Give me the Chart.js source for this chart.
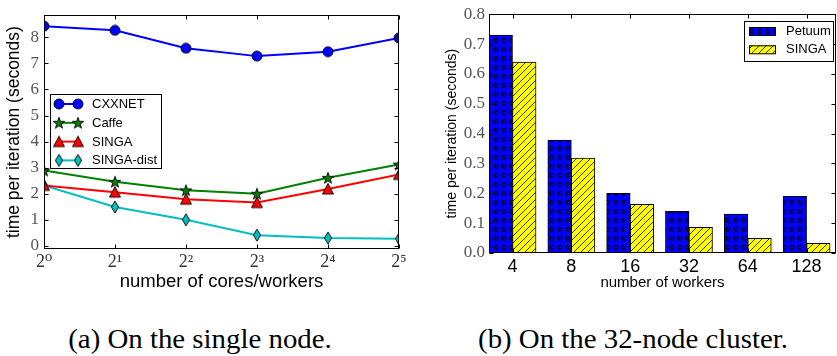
<!DOCTYPE html>
<html><head><meta charset="utf-8">
<script src="https://cdn.jsdelivr.net/npm/chart.js@4/dist/chart.umd.min.js"></script>
<style>
html,body{margin:0;padding:0;background:#fff;}
#wrap{position:relative;width:837px;height:356px;overflow:hidden;background:#fff;}
#c1{position:absolute;left:0;top:0;}
#c2{position:absolute;left:420px;top:0;}
.cap{position:absolute;top:325px;font-family:'Liberation Serif',serif;font-size:28px;line-height:28px;color:#000;white-space:nowrap;transform:translateX(-50%) scaleX(1.03);transform-origin:50% 50%;}
</style></head>
<body>
<div id="wrap">
<canvas id="c1" width="420" height="300"></canvas>
<canvas id="c2" width="417" height="300"></canvas>
<div class="cap" style="left:200px">(a) On the single node.</div>
<div class="cap" style="left:633px">(b) On the 32-node cluster.</div>
</div>
<script>
// ---------- data ----------
const coreExponents = [0, 1, 2, 3, 4, 5];
const coreTickLabels = ['2\u2070', '2\u00B9', '2\u00B2', '2\u00B3', '2\u2074', '2\u2075'];
const cxxnet    = [8.43, 8.27, 7.58, 7.28, 7.45, 7.98];
const caffe     = [2.89, 2.46, 2.13, 2.00, 2.61, 3.12];
const singa     = [2.32, 2.06, 1.79, 1.66, 2.18, 2.74];
const singaDist = [2.32, 1.49, 1.00, 0.41, 0.30, 0.27];

const workers      = ['4', '8', '16', '32', '64', '128'];
const petuum       = [0.73, 0.378, 0.200, 0.140, 0.130, 0.190];
const singaCluster = [0.64, 0.318, 0.163, 0.086, 0.049, 0.032];

// ---------- marker images ----------
function mk(w, h, draw) { const c = document.createElement('canvas'); c.width = w; c.height = h; draw(c.getContext('2d')); return c; }
const circleImg = mk(12, 12, g => { g.beginPath(); g.arc(6, 6, 5, 0, Math.PI * 2); g.fillStyle = '#0000ff'; g.fill(); g.lineWidth = 0.9; g.strokeStyle = '#000'; g.stroke(); });
const starImg = mk(14, 14, g => {
  g.beginPath();
  for (let i = 0; i < 10; i++) { const r = i % 2 ? 2.4 : 6; const a = -Math.PI / 2 + i * Math.PI / 5; const px = 7 + r * Math.cos(a), py = 7.5 + r * Math.sin(a); i ? g.lineTo(px, py) : g.moveTo(px, py); }
  g.closePath(); g.fillStyle = '#008000'; g.fill(); g.lineWidth = 0.9; g.strokeStyle = '#000'; g.stroke();
});
const triImg = mk(14, 14, g => { g.beginPath(); g.moveTo(7, 1.5); g.lineTo(12.5, 12); g.lineTo(1.5, 12); g.closePath(); g.fillStyle = '#ff0000'; g.fill(); g.lineWidth = 0.9; g.strokeStyle = '#000'; g.stroke(); });
const diaImg = mk(10, 14, g => { g.beginPath(); g.moveTo(5, 1); g.lineTo(8.6, 7); g.lineTo(5, 13); g.lineTo(1.4, 7); g.closePath(); g.fillStyle = '#00bfbf'; g.fill(); g.lineWidth = 0.9; g.strokeStyle = '#000'; g.stroke(); });

// ---------- shared plugins ----------
const frameTicks = {
  id: 'frameTicks',
  afterDatasetsDraw(chart, args, opts) {
    const { ctx, chartArea: a, scales: { x, y } } = chart;
    const len = opts.len || 4;
    const L = Math.round(a.left) + 0.5, R = Math.round(a.right) - 0.5, T = Math.round(a.top) + 0.5, B = Math.round(a.bottom) - 0.5;
    ctx.save();
    ctx.strokeStyle = '#000'; ctx.lineWidth = 1;
    ctx.beginPath();
    x.ticks.forEach(t => { const p = Math.round(x.getPixelForValue(t.value)) + 0.5; ctx.moveTo(p, T); ctx.lineTo(p, T + len); ctx.moveTo(p, B); ctx.lineTo(p, B - len); });
    y.ticks.forEach(t => { const p = Math.round(y.getPixelForValue(t.value)) + 0.5; ctx.moveTo(L, p); ctx.lineTo(L + len, p); ctx.moveTo(R, p); ctx.lineTo(R - len, p); });
    ctx.stroke();
    ctx.strokeRect(L, T, R - L, B - T);
    ctx.restore();
  }
};

const lineLegend = {
  id: 'lineLegend',
  afterDraw(chart) {
    const { ctx, chartArea: a } = chart;
    const bx = Math.round(a.left) + 6, by = Math.round(a.top) + 79, bw = 111, bh = 74;
    ctx.save();
    ctx.fillStyle = '#fff'; ctx.fillRect(bx, by, bw, bh);
    ctx.strokeStyle = '#000'; ctx.lineWidth = 1; ctx.strokeRect(bx + 0.5, by + 0.5, bw, bh);
    chart.data.datasets.forEach((ds, i) => {
      const cy = by + 10 + i * 18.8, x0 = bx + 9, x1 = bx + 28;
      ctx.strokeStyle = ds.borderColor; ctx.lineWidth = ds.borderWidth;
      ctx.beginPath(); ctx.moveTo(x0, cy); ctx.lineTo(x1, cy); ctx.stroke();
      const img = ds.pointStyle;
      [x0, x1].forEach(px => ctx.drawImage(img, px - img.width / 2, cy - img.height / 2));
      ctx.fillStyle = '#000'; ctx.font = '13px "Liberation Sans", Arial, sans-serif'; ctx.textBaseline = 'middle';
      ctx.fillText(ds.label, bx + 42, cy + 0.5);
    });
    ctx.restore();
  }
};

const barLegend = {
  id: 'barLegend',
  afterDraw(chart) {
    const { ctx, chartArea: a } = chart;
    const bx = Math.round(a.right) - 92, by = Math.round(a.top) + 7, bw = 89, bh = 40;
    ctx.save();
    ctx.fillStyle = '#fff'; ctx.fillRect(bx, by, bw, bh);
    ctx.strokeStyle = '#000'; ctx.lineWidth = 1; ctx.strokeRect(bx + 0.5, by + 0.5, bw, bh);
    chart.data.datasets.forEach((ds, i) => {
      const sy = by + 6 + i * 18.3;
      ctx.fillStyle = ds.backgroundColor; ctx.fillRect(bx + 5, sy, 27, 8.5);
      ctx.strokeStyle = '#000'; ctx.lineWidth = 1; ctx.strokeRect(bx + 5.5, sy + 0.5, 26, 8);
      ctx.fillStyle = '#000'; ctx.font = '13px "Liberation Sans", Arial, sans-serif'; ctx.textBaseline = 'middle';
      ctx.fillText(ds.label, bx + 42, sy + 4.5);
    });
    ctx.restore();
  }
};

// ---------- chart (a) ----------
const sans = '"Liberation Sans", Arial, sans-serif';
const serif = '"Liberation Serif", "DejaVu Serif", serif';
function pts(arr) { return arr.map((v, i) => ({ x: coreExponents[i], y: v })); }
function lineDs(label, data, color, img) {
  return { label, data: pts(data), borderColor: color, backgroundColor: color, borderWidth: 2, pointStyle: img, pointRadius: 6, pointHoverRadius: 6, tension: 0 };
}
new Chart(document.getElementById('c1'), {
  type: 'line',
  data: { datasets: [
    lineDs('CXXNET', cxxnet, '#0000ff', circleImg),
    lineDs('Caffe', caffe, '#008000', starImg),
    lineDs('SINGA', singa, '#ff0000', triImg),
    lineDs('SINGA-dist', singaDist, '#00bfbf', diaImg)
  ] },
  options: {
    responsive: false, animation: false,
    layout: { padding: { left: 0, top: 14, right: 21, bottom: 0 } },
    plugins: { legend: { display: false }, tooltip: { enabled: false }, frameTicks: { len: 4 } },
    scales: {
      x: {
        type: 'linear', min: 0, max: 5,
        grid: { display: false, drawTicks: false }, border: { display: false },
        ticks: { stepSize: 1, autoSkip: false, maxRotation: 0, padding: 2, color: '#333', font: { family: serif, size: 18 },
          callback: v => coreTickLabels[coreExponents.indexOf(v)] },
        title: { display: true, text: 'number of cores/workers', color: '#000', font: { family: sans, size: 18.5 }, padding: { top: 0, bottom: 7 } },
        afterFit: s => { s.height = 51; }
      },
      y: {
        min: -0.12, max: 8.85,
        grid: { display: false, drawTicks: false }, border: { display: false },
        ticks: { stepSize: 1, includeBounds: false, autoSkip: false, padding: 5, color: '#555', font: { family: serif, size: 17 } },
        title: { display: true, text: 'time per iteration (seconds)', color: '#000', font: { family: sans, size: 17.5 }, padding: { top: 4, bottom: 0 } },
        afterFit: s => { s.width = 44; }
      }
    }
  },
  plugins: [frameTicks, lineLegend]
});

// ---------- chart (b) ----------
const c2 = document.getElementById('c2');
const g2 = c2.getContext('2d');
const dotTile = mk(8, 9, g => { g.fillStyle = '#0000ff'; g.fillRect(0, 0, 8, 9); g.beginPath(); g.arc(4, 4.5, 1.9, 0, Math.PI * 2); g.strokeStyle = '#000'; g.lineWidth = 1.1; g.stroke(); });
const hatchTile = mk(7, 7, g => { g.fillStyle = '#ffff00'; g.fillRect(0, 0, 7, 7); g.strokeStyle = '#000'; g.lineWidth = 0.8; g.beginPath(); g.moveTo(-1, 8); g.lineTo(8, -1); g.moveTo(-1, 1); g.lineTo(1, -1); g.moveTo(6, 8); g.lineTo(8, 6); g.stroke(); });
const dotPattern = g2.createPattern(dotTile, 'repeat');
const hatchPattern = g2.createPattern(hatchTile, 'repeat');

new Chart(c2, {
  type: 'bar',
  data: { datasets: [
    { label: 'Petuum', data: petuum.map((v, i) => ({ x: i + 0.2, y: v })), backgroundColor: dotPattern, borderColor: '#000', borderWidth: 1, borderSkipped: false },
    { label: 'SINGA', data: singaCluster.map((v, i) => ({ x: i + 0.6, y: v })), backgroundColor: hatchPattern, borderColor: '#000', borderWidth: 1, borderSkipped: false }
  ] },
  options: {
    responsive: false, animation: false,
    grouped: false, categoryPercentage: 1, barPercentage: 1,
    layout: { padding: { left: 0, top: 14, right: 1, bottom: 0 } },
    plugins: { legend: { display: false }, tooltip: { enabled: false }, frameTicks: { len: 4 } },
    scales: {
      x: {
        type: 'linear', min: 0, max: 5.9, offset: false,
        grid: { display: false, drawTicks: false }, border: { display: false },
        afterBuildTicks: s => { s.ticks = workers.map((w, i) => ({ value: i + 0.4 })); },
        ticks: { autoSkip: false, maxRotation: 0, padding: 3, color: '#000', font: { family: sans, size: 18 },
          callback: v => workers[Math.round(v - 0.4)] },
        title: { display: true, text: 'number of workers', color: '#000', font: { family: sans, size: 15 }, padding: { top: 0, bottom: 8 } },
        afterFit: s => { s.height = 47; }
      },
      y: {
        min: 0, max: 0.8,
        grid: { display: false, drawTicks: false }, border: { display: false },
        ticks: { stepSize: 0.1, autoSkip: false, padding: 4, color: '#555', font: { family: serif, size: 17 }, callback: v => v.toFixed(1) },
        title: { display: true, text: 'time per iteration (seconds)', color: '#000', font: { family: sans, size: 14 }, padding: { top: 24, bottom: 0 } },
        afterFit: s => { s.width = 69; }
      }
    }
  },
  plugins: [frameTicks, barLegend]
});
</script>
</body></html>
